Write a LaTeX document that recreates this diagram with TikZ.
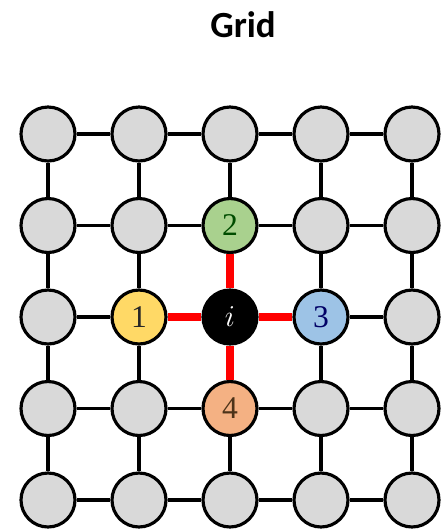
\documentclass[tikz,border=0pt]{standalone}
\usepackage{fontspec}
\newfontfamily\headfont{Carlito}
\newfontfamily\cellfont{Liberation Serif}
\definecolor{cellgray}{HTML}{D9D9D9}
\definecolor{cellyellow}{HTML}{FFD966}
\definecolor{cellgreen}{HTML}{A9D18E}
\definecolor{cellblue}{HTML}{9DC3E6}
\definecolor{cellorange}{HTML}{F4B183}

\begin{document}
\begin{tikzpicture}[
  x=0.02cm, y=-0.02cm,
  font=\cellfont\fontsize{18}{18}\selectfont,
  gridnode/.style={circle, draw=black, line width=1.8pt, fill=cellgray, minimum size=1.08cm, inner sep=0pt},
  link/.style={draw=black, line width=2pt},
  hotlink/.style={draw=red, line width=5pt}
]
  \useasboundingbox (0,0) rectangle (441,532);
  \node[font=\headfont\bfseries\fontsize{21}{24}\selectfont] (title) at (243,25) {Grid};

  % plain cells, leaving out the centre cross
  \foreach \c in {1,...,5} {
    \foreach \r in {1,...,5} {
      \pgfmathtruncatemacro{\skipit}{(\c==3 && \r>1 && \r<5) || (\r==3 && (\c==2 || \c==4))}
      \ifnum\skipit=0
        \node[gridnode] (n\c\r) at ({48+91*(\c-1)}, {134+91.5*(\r-1)}) {};
      \fi
    }
  }

  % centre and its four neighbours
  \node[gridnode, fill=black, text=white] (n33) at (230,317) {$i$};
  \node[gridnode, fill=cellyellow, text=black!85] (n23) at (139,317) {1};
  \node[gridnode, fill=cellgreen, text=green!30!black] (n32) at (230,225.5) {2};
  \node[gridnode, fill=cellblue, text=blue!40!black] (n43) at (321,317) {3};
  \node[gridnode, fill=cellorange, text=brown!40!black] (n34) at (230,408.5) {4};

  % horizontal links
  \foreach \r in {1,2,4,5} {
    \foreach \c/\cn in {1/2,2/3,3/4,4/5} {
      \draw[link] (n\c\r) -- (n\cn\r);
    }
  }
  \draw[link] (n13) -- (n23);
  \draw[link] (n43) -- (n53);

  % vertical links
  \foreach \c in {1,2,4,5} {
    \foreach \r/\rn in {1/2,2/3,3/4,4/5} {
      \draw[link] (n\c\r) -- (n\c\rn);
    }
  }
  \draw[link] (n31) -- (n32);
  \draw[link] (n34) -- (n35);

  % red cross round the centre
  \draw[hotlink] (n33) -- (n23);
  \draw[hotlink] (n33) -- (n43);
  \draw[hotlink] (n33) -- (n32);
  \draw[hotlink] (n33) -- (n34);
\end{tikzpicture}
\end{document}
